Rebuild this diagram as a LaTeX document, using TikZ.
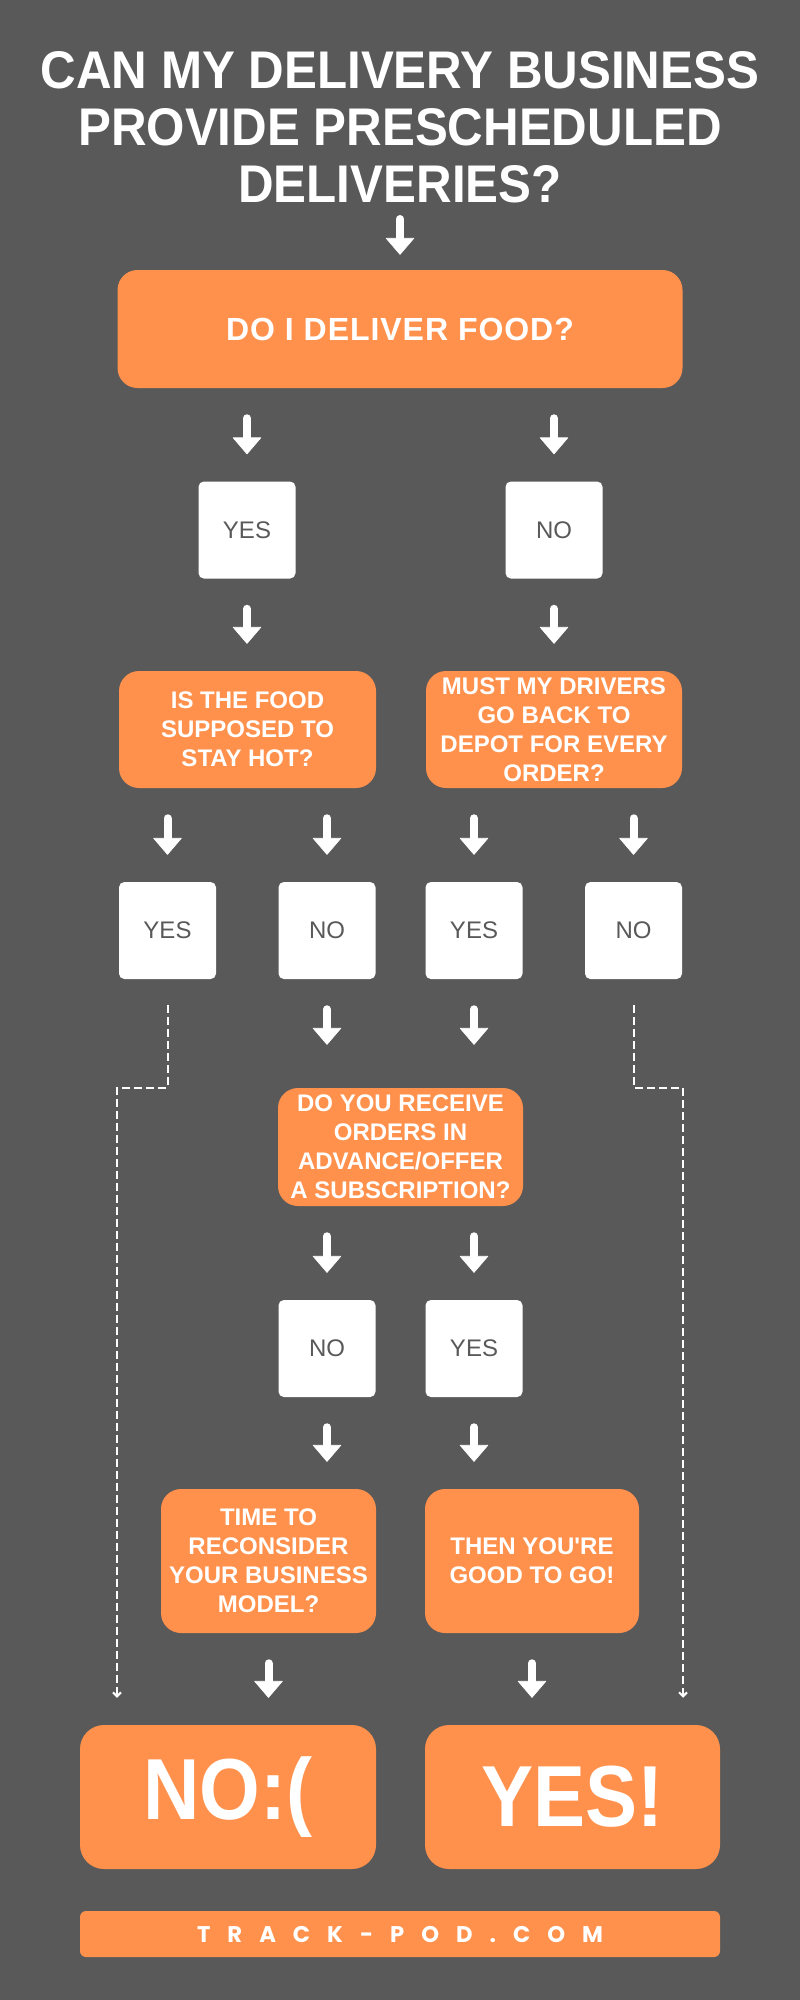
\documentclass[tikz,border=0pt]{standalone}
\usepackage{fontspec}
\setmainfont{Liberation Sans}
\newfontfamily\headfont{Liberation Sans}[FakeStretch=0.93]
\newfontfamily\tallfont{Liberation Sans}[FakeStretch=0.9]
\newfontfamily\sitefont{Poppins}[LetterSpace=75]
\usepackage{tikz}
\usetikzlibrary{arrows.meta,positioning,calc}
\definecolor{slate}{HTML}{595959}
\definecolor{tangerine}{HTML}{FF914D}

\begin{document}
\begin{tikzpicture}[
  x=0.75pt, y=-0.75pt,
  qbox/.style={fill=tangerine, rounded corners=15pt, align=center, inner sep=0pt, text=white, font=\bfseries\fontsize{18pt}{21.75pt}\selectfont},
  ans/.style={fill=white, rounded corners=4pt, minimum width=72.75pt, minimum height=72.75pt, inner sep=0pt, text=slate, font=\fontsize{18pt}{21.75pt}\selectfont},
  verdict/.style={fill=tangerine, rounded corners=18pt, minimum height=108pt, inner sep=0pt, text=white, font=\tallfont\bfseries\fontsize{65pt}{72pt}\selectfont},
  arr/.style={white, line width=6pt, line cap=round, -{Triangle[width=21.75pt,length=12.75pt,line width=0.5pt,round]}, shorten <=22.5pt, shorten >=20.25pt},
  skip/.style={white, line width=1.5pt, dash pattern=on 6pt off 3pt, -{Straight Barb[length=3pt,width=6pt]}, shorten <=19.5pt, shorten >=20.25pt}
]
\fill[slate] (0,0) rectangle (800,2000);
\useasboundingbox (0,0) rectangle (800,2000);

\node[font=\headfont\bfseries\fontsize{39.75pt}{42.75pt}\selectfont, text=white, align=center, inner sep=0pt] (title) at (400,127) {CAN MY DELIVERY BUSINESS\\PROVIDE PRESCHEDULED\\DELIVERIES?};
\coordinate (start) at (400,219);

\node[qbox, minimum width=423.75pt, minimum height=88.5pt, font=\bfseries\fontsize{24pt}{28pt}\selectfont\addfontfeature{LetterSpace=3}] (food) at (400,329) {DO I DELIVER FOOD?};

\node[ans] (fyes) at (247,530) {YES};
\node[ans] (fno) at (554,530) {NO};

\node[qbox, minimum width=192.75pt, minimum height=87.75pt] (hot) at (247.5,729.5) {IS THE FOOD\\SUPPOSED TO\\STAY HOT?};
\node[qbox, minimum width=192pt, minimum height=87.75pt] (depot) at (554,729.5) {MUST MY DRIVERS\\GO BACK TO\\DEPOT FOR EVERY\\ORDER?};

\node[ans] (hyes) at (167.5,930.5) {YES};
\node[ans] (hno) at (327,930.5) {NO};
\node[ans] (dyes) at (474,930.5) {YES};
\node[ans] (dno) at (633.5,930.5) {NO};

\node[qbox, minimum width=183.75pt, minimum height=88.5pt] (receive) at (400.5,1147) {DO YOU RECEIVE\\ORDERS IN\\ADVANCE/OFFER\\A SUBSCRIPTION?};

\node[ans] (rno) at (327,1348.5) {NO};
\node[ans] (ryes) at (474,1348.5) {YES};

\node[qbox, minimum width=161.25pt, minimum height=108pt] (reconsider) at (268.5,1561) {TIME TO\\RECONSIDER\\YOUR BUSINESS\\MODEL?};
\node[qbox, minimum width=160.5pt, minimum height=108pt] (good) at (532,1561) {THEN YOU\textquotesingle RE\\GOOD TO GO!};

\node[verdict, minimum width=222pt] (fail) at (228,1797) {NO:(};
\node[verdict, minimum width=221.25pt] (win) at (572.5,1797) {YES!};

\node[fill=tangerine, rounded corners=4.5pt, minimum width=480pt, minimum height=34.5pt, inner sep=0pt, text=white, font=\sitefont\bfseries\fontsize{17pt}{20pt}\selectfont] (site) at (400,1934) {TRACK-POD.COM};

% main flow
\draw[arr, shorten <=0pt, shorten >=11.25pt] (start) -- (food);
\draw[arr] (food.south -| fyes) -- (fyes.north);
\draw[arr] (food.south -| fno) -- (fno.north);
\draw[arr] (fyes.south) -- (fyes.south |- hot.north);
\draw[arr] (fno.south) -- (fno.south |- depot.north);
\draw[arr] (hot.south -| hyes) -- (hyes.north);
\draw[arr] (hot.south -| hno) -- (hno.north);
\draw[arr] (depot.south -| dyes) -- (dyes.north);
\draw[arr] (depot.south -| dno) -- (dno.north);
\draw[arr, shorten >=32.25pt] (hno.south) -- (hno.south |- receive.north);
\draw[arr, shorten >=32.25pt] (dyes.south) -- (dyes.south |- receive.north);
\draw[arr] (receive.south -| rno) -- (rno.north);
\draw[arr] (receive.south -| ryes) -- (ryes.north);
\draw[arr] (rno.south) -- (rno.south |- reconsider.north);
\draw[arr] (ryes.south) -- (ryes.south |- good.north);
\draw[arr] (reconsider.south) -- (reconsider.south |- fail.north);
\draw[arr] (good.south) -- (good.south |- win.north);

% shortcuts
\coordinate (lbend) at (117,1087.5);
\coordinate (rbend) at (683,1087.5);
\draw[skip] (hyes.south) |- (lbend) -- (lbend |- fail.north);
\draw[skip] (dno.south) |- (rbend) -- (rbend |- win.north);
\end{tikzpicture}
\end{document}
